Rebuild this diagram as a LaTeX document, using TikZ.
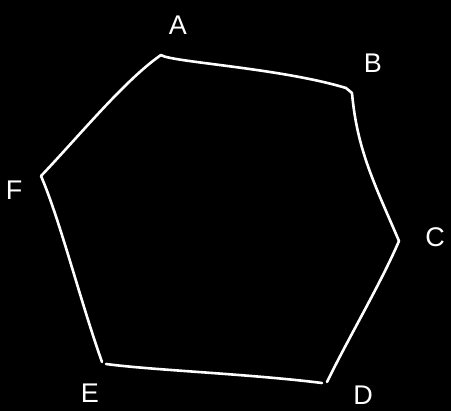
\documentclass[tikz,border=0pt]{standalone}
\usepackage{fontspec}
\setmainfont{Liberation Sans}
\begin{document}
\begin{tikzpicture}[x=1pt,y=-1pt,
  edge/.style={white,line width=2.6pt,line cap=round,line join=round},
  lbl/.style={text=white,font=\fontsize{27}{27}\selectfont,inner sep=0pt}]
\fill[black] (0,0) rectangle (451,411);
\useasboundingbox (0,0) rectangle (451,411);
\coordinate (A) at (161,55);
\coordinate (B) at (352,93);
\coordinate (C) at (399,241);
\coordinate (D) at (327,382);
\coordinate (E) at (102,362);
\coordinate (F) at (41,176);
\draw[edge] (A) .. controls (170,62) and (280,68) .. (346,88) -- (B);
\draw[edge] (B) .. controls (357,150) and (375,185) .. (C);
\draw[edge] (C) .. controls (380,285) and (350,335) .. (D);
\draw[edge] (322,383) .. controls (250,374) and (150,370) .. (106,364);
\draw[edge] (E) .. controls (80,300) and (60,220) .. (F);
\draw[edge] (F) .. controls (80,135) and (125,80) .. (A);
\node[lbl] (lA) at (178,25) {A};
\node[lbl] (lB) at (373,63) {B};
\node[lbl] (lC) at (435,237) {C};
\node[lbl] (lD) at (363,395) {D};
\node[lbl] (lE) at (90,393) {E};
\node[lbl] (lF) at (14,190) {F};
\end{tikzpicture}
\end{document}
